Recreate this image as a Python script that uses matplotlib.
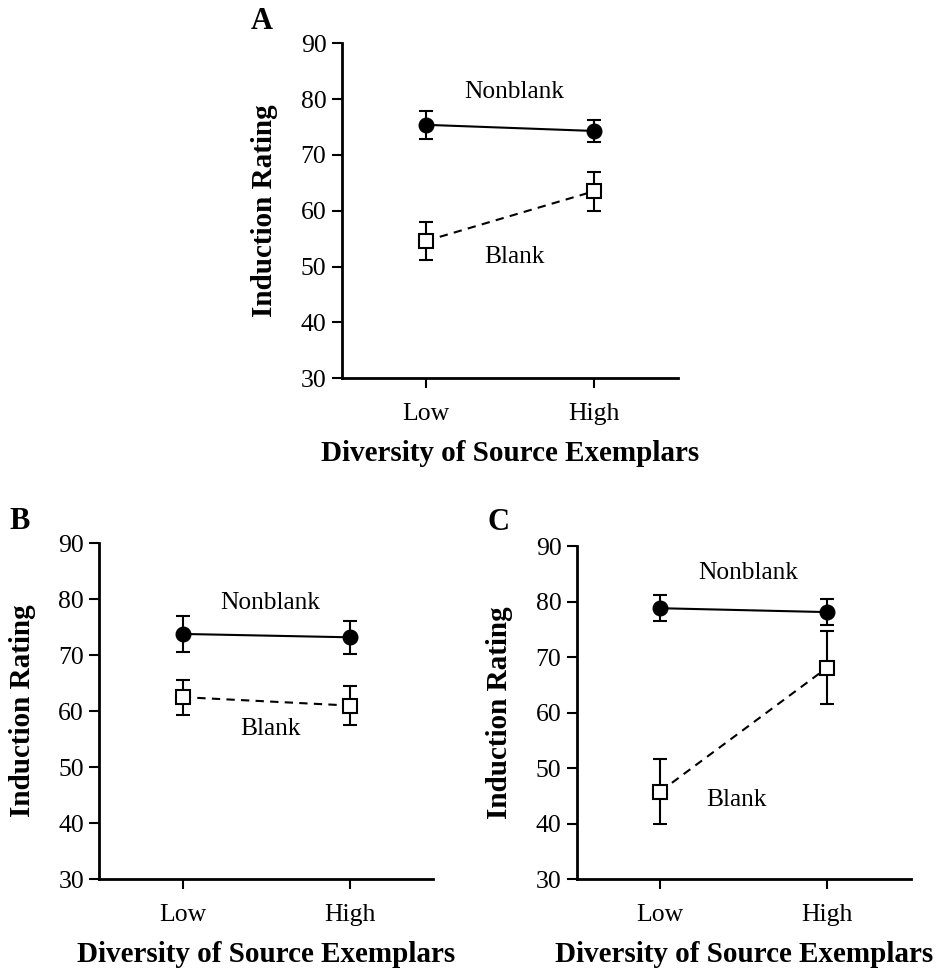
import matplotlib
matplotlib.use("Agg")
import matplotlib.pyplot as plt

plt.rcParams['font.family'] = ['Liberation Serif', 'DejaVu Serif']

categories = ["Low", "High"]
yticks = [30, 40, 50, 60, 70, 80, 90]
xlabel_text = "Diversity of Source Exemplars"
ylabel_text = "Induction Rating"
series_names = ["Nonblank", "Blank"]

# Panel A
a_nonblank = [75.4, 74.3]
a_nonblank_err = [2.5, 2.0]
a_blank = [54.6, 63.5]
a_blank_err = [3.4, 3.5]
# Panel B
b_nonblank = [73.8, 73.2]
b_nonblank_err = [3.2, 3.0]
b_blank = [62.5, 61.0]
b_blank_err = [3.1, 3.5]
# Panel C
c_nonblank = [78.8, 78.1]
c_nonblank_err = [2.3, 2.3]
c_blank = [45.8, 68.1]
c_blank_err = [5.9, 6.6]

panels = [
    ("A", a_nonblank, a_nonblank_err, a_blank, a_blank_err),
    ("B", b_nonblank, b_nonblank_err, b_blank, b_blank_err),
    ("C", c_nonblank, c_nonblank_err, c_blank, c_blank_err),
]

W, H = 940, 974
fig = plt.figure(figsize=(W / 100, H / 100), dpi=100)

# axes rectangles in pixels: left, top, right, bottom
rects = {
    "A": (341.7, 43.3, 678.0, 378.3),
    "B": (99.3, 543.3, 433.0, 879.0),
    "C": (576.7, 546.0, 910.7, 879.3),
}
# label positions (data coords): nonblank (x, y), blank (x, y)
label_pos = {
    "A": ((0.527, 81.2), (0.528, 51.8)),
    "B": ((0.527, 79.3), (0.527, 56.8)),
    "C": ((0.526, 85.1), (0.455, 44.3)),
}
letter_pos = {"A": (261.7, 21.7), "B": (20.0, 521.7), "C": (498.0, 523.0)}

lw = 1.5
for name, nb, nbe, bl, ble in panels:
    l, t, r, b = rects[name]
    ax = fig.add_axes([l / W, 1 - b / H, (r - l) / W, (b - t) / H])
    x = list(range(len(categories)))
    ax.errorbar(x, nb, yerr=nbe, color="black", lw=lw, ls="-", marker="o",
                markersize=10.5, markerfacecolor="black", capsize=5,
                elinewidth=lw, capthick=lw, zorder=3)
    ax.errorbar(x, bl, yerr=ble, color="black", lw=lw, ls=(0, (4, 3)), marker="s",
                markersize=9.5, markerfacecolor="white", markeredgewidth=1.5,
                capsize=5, elinewidth=lw, capthick=lw, zorder=3)
    (nx, ny), (bx, by) = label_pos[name]
    ax.text(nx, ny, series_names[0], ha="center", va="center", fontsize=18.3)
    ax.text(bx, by, series_names[1], ha="center", va="center", fontsize=18.3)

    ax.set_xlim(-0.5, 1.5)
    ax.set_ylim(30, 90)
    ax.set_xticks(x)
    ax.set_xticklabels(categories)
    ax.set_yticks(yticks)
    for s in ["top", "right"]:
        ax.spines[s].set_visible(False)
    for s in ["left", "bottom"]:
        ax.spines[s].set_linewidth(2)
    ax.tick_params(axis="both", direction="out", length=7, width=1.5,
                   labelsize=18.5)
    ax.tick_params(axis="x", pad=11)
    ax.tick_params(axis="y", pad=4)
    ax.set_ylabel(ylabel_text, fontsize=21, fontweight="bold")
    ax.yaxis.set_label_coords(-0.23, 0.5)
    ax.set_xlabel(xlabel_text, fontsize=21, fontweight="bold")
    ax.xaxis.set_label_coords(0.5, -0.225)
    ax.xaxis.label.set_va("center")
    ax.yaxis.label.set_va("center")

    lx, ly = letter_pos[name]
    fig.text(lx / W, 1 - ly / H, name, ha="center", va="center",
             fontsize=22, fontweight="bold")

fig.savefig("out.png", dpi=100)
